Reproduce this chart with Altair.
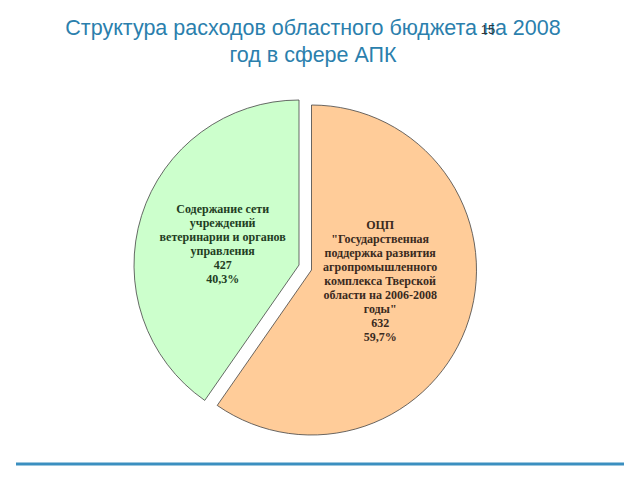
import math
import altair as alt
import pandas as pd

# ---- data ----
names = [
    "ОЦП\n\"Государственная\nподдержка развития\nагропромышленного\nкомплекса Тверской\nобласти на 2006-2008\nгоды\"",
    "Содержание сети\nучреждений\nветеринарии и органов\nуправления",
]
values = [632, 427]
percents = ["59,7%", "40,3%"]
fills = ["#FFCC99", "#CCFFCC"]
text_colors = ["#3a2a1e", "#233d23"]
title_lines = ["Структура расходов областного бюджета на 2008", "год в сфере АПК"]
slide_number = "15"

total = sum(values)
df = pd.DataFrame({
    "order": list(range(len(values))),
    "value": values,
    "label": [f"{n}\n{v}\n{p}" for n, v, p in zip(names, values, percents)],
})

theta_scale = alt.Scale(domain=[0, total], range=[0, 2 * math.pi])

base = (
    alt.Chart(df)
    .transform_window(cum="sum(value)", sort=[alt.SortField("order")], frame=[None, 0])
    .transform_calculate(start="datum.cum - datum.value", mid="datum.cum - datum.value / 2")
)

# explosion: each slice has its own centre
centres = [(311.5, 270), (299, 265)]
label_radius = [72, 80]
label_dy = [-67, -32]

layers = []
for i in range(len(values)):
    cx, cy = centres[i]
    sl = base.transform_filter(alt.datum.order == i)
    arc = sl.mark_arc(radius=165, stroke="#444444", strokeWidth=0.8, fill=fills[i]).encode(
        theta=alt.Theta("start:Q", scale=theta_scale),
        theta2=alt.Theta2("cum:Q"),
        x=alt.value(cx),
        y=alt.value(cy),
    )
    txt = sl.mark_text(
        font="Liberation Serif",
        fontWeight="bold",
        fontSize=12,
        lineBreak="\n",
        lineHeight=14,
        align="center",
        baseline="middle",
        color=text_colors[i],
        radius=label_radius[i],
        dy=label_dy[i],
    ).encode(
        theta=alt.Theta("mid:Q", scale=theta_scale),
        x=alt.value(cx),
        y=alt.value(cy),
        text="label:N",
    )
    layers += [arc, txt]

title_df = pd.DataFrame({"t": title_lines, "row": [0, 1]})
title1 = alt.Chart(title_df).transform_filter(alt.datum.row == 0).mark_text(
    font="Liberation Sans", fontSize=21.5, color="#2b7fad", align="center", baseline="alphabetic"
).encode(x=alt.value(313), y=alt.value(35), text="t:N")
title2 = alt.Chart(title_df).transform_filter(alt.datum.row == 1).mark_text(
    font="Liberation Sans", fontSize=21.5, color="#2b7fad", align="center", baseline="alphabetic"
).encode(x=alt.value(313), y=alt.value(62), text="t:N")
num = alt.Chart(pd.DataFrame({"n": [slide_number]})).mark_text(
    font="Liberation Sans", fontSize=13, color="#333333", align="center", baseline="alphabetic"
).encode(x=alt.value(488), y=alt.value(34), text="n:N")

rule = alt.Chart(pd.DataFrame({"a": [0]})).mark_rule(color="#3b8fc0", strokeWidth=3).encode(
    x=alt.value(16), x2=alt.value(624), y=alt.value(464)
)

chart = (
    alt.layer(*layers, title1, title2, num, rule)
    .properties(width=640, height=480, autosize="none", padding=0)
    .configure_view(stroke=None)
)

chart.save("out.html", embed_options={"renderer": "svg", "actions": False})
